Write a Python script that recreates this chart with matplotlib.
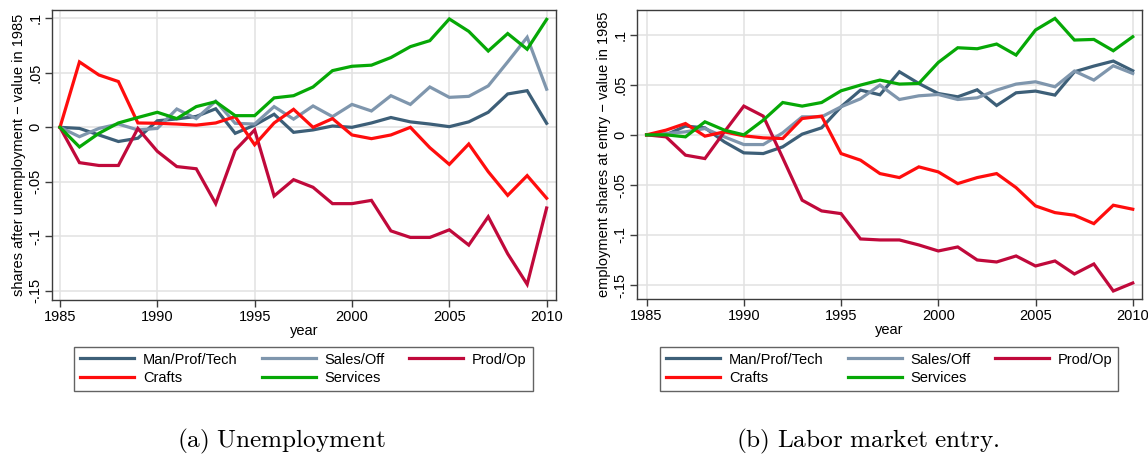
import matplotlib
matplotlib.use('Agg')
import matplotlib.pyplot as plt
from matplotlib.ticker import FixedLocator, FixedFormatter

plt.rcParams['font.family'] = ['Liberation Sans', 'DejaVu Sans']
plt.rcParams['mathtext.fontset'] = 'cm'

years = list(range(1985, 2011))

# panel (a): shares after unemployment, difference to 1985
unemp_man = [0, -0.001, -0.007, -0.013, -0.010, 0.006, 0.0077, 0.010, 0.017, -0.0055,
             0.002, 0.012, -0.0046, -0.0024, 0.0012, 0.0, 0.004, 0.009, 0.005, 0.003,
             0.0006, 0.005, 0.0138, 0.0306, 0.0336, 0.0037]
unemp_sales = [0, -0.0086, -0.001, 0.003, -0.0024, -0.001, 0.0168, 0.008, 0.024, 0.0037,
               0.003, 0.019, 0.0075, 0.0196, 0.0098, 0.021, 0.015, 0.029, 0.021, 0.037,
               0.0275, 0.0284, 0.038, 0.060, 0.0826, 0.035]
unemp_prod = [0, -0.0324, -0.035, -0.035, -0.001, -0.022, -0.036, -0.038, -0.070, -0.021,
              -0.0024, -0.063, -0.048, -0.055, -0.070, -0.070, -0.067, -0.095, -0.101, -0.101,
              -0.094, -0.108, -0.082, -0.116, -0.144, -0.074]
unemp_crafts = [0, 0.060, 0.048, 0.042, 0.004, 0.0037, 0.003, 0.002, 0.004, 0.0098,
                -0.016, 0.004, 0.0165, 0.0, 0.008, -0.007, -0.0104, -0.007, 0.0, -0.0187,
                -0.034, -0.0153, -0.0407, -0.0624, -0.0443, -0.065]
unemp_serv = [0, -0.018, -0.0055, 0.004, 0.009, 0.0138, 0.008, 0.019, 0.0235, 0.0107,
              0.0107, 0.027, 0.029, 0.037, 0.052, 0.056, 0.057, 0.064, 0.074, 0.0795,
              0.0994, 0.088, 0.070, 0.086, 0.0716, 0.099]

# panel (b): employment shares at entry, difference to 1985
entry_man = [0, 0.0, 0.0087, 0.007, -0.007, -0.018, -0.0187, -0.012, 0.0007, 0.007,
             0.028, 0.0447, 0.040, 0.063, 0.0513, 0.0413, 0.038, 0.045, 0.0293, 0.042,
             0.0437, 0.0397, 0.063, 0.0687, 0.0737, 0.064]
entry_sales = [0, 0.0013, 0.003, 0.0063, -0.002, -0.0097, -0.0097, 0.002, 0.018, 0.018,
               0.028, 0.036, 0.0497, 0.0353, 0.039, 0.0403, 0.0353, 0.037, 0.0447, 0.0507,
               0.053, 0.048, 0.0637, 0.0547, 0.069, 0.0613]
entry_prod = [0, -0.002, -0.0203, -0.0237, 0.003, 0.0287, 0.0187, -0.023, -0.0653, -0.076,
              -0.0787, -0.104, -0.105, -0.105, -0.110, -0.116, -0.112, -0.125, -0.127, -0.121,
              -0.131, -0.126, -0.139, -0.129, -0.156, -0.148]
entry_crafts = [0, 0.0047, 0.0113, -0.0013, 0.003, -0.001, -0.003, -0.0037, 0.0163, 0.0187,
                -0.0187, -0.0253, -0.0387, -0.0427, -0.032, -0.037, -0.0487, -0.0427, -0.0387, -0.0527,
                -0.071, -0.0777, -0.0803, -0.0887, -0.0703, -0.0743]
entry_serv = [0, 0.0, -0.002, 0.013, 0.0047, 0.0, 0.0147, 0.0323, 0.0287, 0.0323,
              0.044, 0.0497, 0.0547, 0.0507, 0.0513, 0.0723, 0.087, 0.086, 0.0907, 0.0797,
              0.1047, 0.1163, 0.0947, 0.0953, 0.084, 0.098]

labels = ['Man/Prof/Tech', 'Sales/Off', 'Prod/Op', 'Crafts', 'Services']
colors = ['#3d5f78', '#7f96ad', '#c0093b', '#ff0d0d', '#06a806']

x_ticks = [1985, 1990, 1995, 2000, 2005, 2010]
y_ticks = [-0.15, -0.1, -0.05, 0, 0.05, 0.1]
y_ticklabels = ['-.15', '-.1', '-.05', '0', '.05', '.1']

FS = 10.5

fig = plt.figure(figsize=(11.48, 4.57), dpi=100)
ax1 = fig.add_axes([0.0453, 0.3435, 0.4390, 0.6346])
ax2 = fig.add_axes([0.5551, 0.3457, 0.4394, 0.6324])

panels = [
    (ax1, [unemp_man, unemp_sales, unemp_prod, unemp_crafts, unemp_serv],
     'shares after unemployment \u2212 value in 1985', (-0.1584, 0.1076), (1984.59, 2010.48),
     r'$\mathrm{(a)\ Unemployment}$', 0.2452, 0.2643),
    (ax2, [entry_man, entry_sales, entry_prod, entry_crafts, entry_serv],
     'employment shares at entry \u2212 value in 1985', (-0.164, 0.1247), (1984.52, 2010.46),
     r'$\mathrm{(b)\ Labor\ market\ entry.}$', 0.7561, 0.7746),
]

for ax, series, ylabel, ylim, xlim, caption, cx, lx in panels:
    lines = []
    for vals, lab, col in zip(series, labels, colors):
        ln, = ax.plot(years, vals, color=col, lw=2.3, label=lab, solid_joinstyle='miter')
        lines.append(ln)
    ax.set_xlim(*xlim)
    ax.set_ylim(*ylim)
    ax.xaxis.set_major_locator(FixedLocator(x_ticks))
    ax.yaxis.set_major_locator(FixedLocator(y_ticks))
    ax.yaxis.set_major_formatter(FixedFormatter(y_ticklabels))
    ax.grid(True, color='#e2e2e2', lw=1.1)
    ax.set_axisbelow(True)
    for sp in ax.spines.values():
        sp.set_color('#3c3c3c')
        sp.set_linewidth(1.0)
    ax.tick_params(direction='out', length=5, width=1, color='#3c3c3c',
                   labelsize=FS, pad=2)
    for t in ax.get_yticklabels():
        t.set_rotation(90)
        t.set_va('center')
    ax.set_xlabel('year', fontsize=FS, labelpad=0)
    ax.set_ylabel(ylabel, fontsize=FS, labelpad=2)

    # legend: 3 columns, filled row by row
    order = [0, 3, 1, 4, 2]
    leg = fig.legend([lines[i] for i in order], [labels[i] for i in order],
                     ncol=3, loc='upper center', bbox_to_anchor=(lx, 0.2414),
                     fontsize=FS, frameon=True, fancybox=False, edgecolor='#3c3c3c',
                     handlelength=3.7, handletextpad=0.62, columnspacing=1.65,
                     labelspacing=0.3, borderpad=0.4, borderaxespad=0)
    leg.get_frame().set_linewidth(1.0)

    fig.text(cx, 0.033, caption, ha='center', va='center', fontsize=18.2)

fig.savefig('out.png', dpi=100)
